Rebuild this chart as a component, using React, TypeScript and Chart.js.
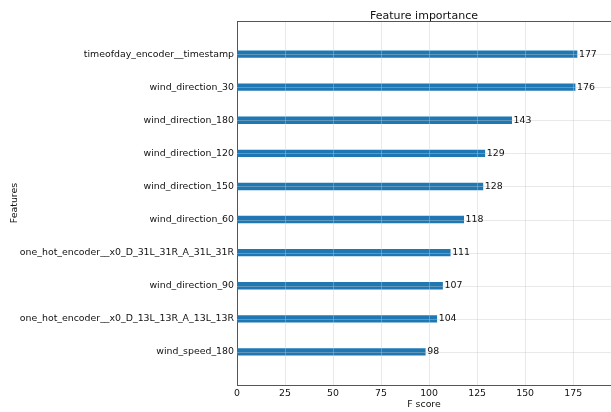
import React, { useEffect, useRef } from "react";
import { Chart, registerables } from "chart.js";

Chart.register(...registerables);

const features = [
  "timeofday_encoder__timestamp",
  "wind_direction_30",
  "wind_direction_180",
  "wind_direction_120",
  "wind_direction_150",
  "wind_direction_60",
  "one_hot_encoder__x0_D_31L_31R_A_31L_31R",
  "wind_direction_90",
  "one_hot_encoder__x0_D_13L_13R_A_13L_13R",
  "wind_speed_180",
];
const scores = [177, 176, 143, 129, 128, 118, 111, 107, 104, 98];
const xTicks = [0, 25, 50, 75, 100, 125, 150, 175];

const FONT = "'DejaVu Sans', sans-serif";
const TEXT = "#111111";
const FS = 9.4;

export default function App() {
  const ref = useRef<HTMLCanvasElement | null>(null);
  useEffect(() => {
    if (!ref.current) return;
    const labels = ["", ...features, ""];
    const data = [null, ...scores, null];
    const maxX = Math.max(...scores) * 1.1;

    const overlay = {
      id: "overlay",
      afterDatasetsDraw(chart: any) {
        const { ctx, chartArea } = chart;
        const xs = chart.scales.x;
        const ys = chart.scales.y;
        ctx.save();
        // grid drawn above bars (matplotlib style)
        ctx.strokeStyle = "rgba(200,200,200,0.4)";
        ctx.lineWidth = 1;
        ctx.beginPath();
        xTicks.forEach((v) => {
          if (v === 0) return;
          const px = Math.round(xs.getPixelForValue(v)) + 0.5;
          ctx.moveTo(px, chartArea.top);
          ctx.lineTo(px, chartArea.bottom);
        });
        features.forEach((f, i) => {
          const py = Math.round(ys.getPixelForValue(i + 1)) + 0.5;
          ctx.moveTo(chartArea.left, py);
          ctx.lineTo(chartArea.right, py);
        });
        ctx.stroke();
        // top spine
        ctx.strokeStyle = "#555";
        ctx.beginPath();
        ctx.moveTo(chartArea.left, Math.round(chartArea.top) + 0.5);
        ctx.lineTo(chartArea.right, Math.round(chartArea.top) + 0.5);
        ctx.stroke();
        // value labels
        ctx.fillStyle = TEXT;
        ctx.font = `${FS}px ${FONT}`;
        ctx.textAlign = "left";
        ctx.textBaseline = "middle";
        scores.forEach((v, i) => {
          const px = xs.getPixelForValue(v + 1);
          const py = ys.getPixelForValue(i + 1);
          ctx.fillText(String(v), px, py);
        });
        // title
        ctx.font = `11px ${FONT}`;
        ctx.textAlign = "center";
        ctx.textBaseline = "alphabetic";
        ctx.fillText("Feature importance", (chartArea.left + chartArea.right) / 2, 19.3);
        // axis titles
        ctx.font = `${FS}px ${FONT}`;
        ctx.fillText("F score", (chartArea.left + chartArea.right) / 2, 406.5);
        ctx.translate(17, (chartArea.top + chartArea.bottom) / 2);
        ctx.rotate(-Math.PI / 2);
        ctx.fillText("Features", 0, 0);
        ctx.restore();
      },
    };

    const chart = new Chart(ref.current, {
      type: "bar",
      data: {
        labels,
        datasets: [
          {
            data: data as any,
            backgroundColor: "#1f77b4",
            borderWidth: 0,
            barThickness: 6.7,
          },
        ],
      },
      options: {
        indexAxis: "y",
        animation: false,
        responsive: false,
        maintainAspectRatio: false,
        layout: { padding: { top: 21, left: 0, right: 0, bottom: 0 } },
        plugins: {
          legend: { display: false },
          title: { display: false },
          tooltip: { enabled: false },
        },
        scales: {
          x: {
            type: "linear",
            min: 0,
            max: maxX,
            afterBuildTicks: (s: any) => {
              s.ticks = xTicks.map((v) => ({ value: v }));
            },
            afterFit: (s: any) => {
              s.height = 27;
            },
            grid: { display: false, drawTicks: false },
            border: { display: true, color: "#555", width: 1 },
            ticks: {
              padding: 3,
              color: TEXT,
              font: { family: FONT, size: FS },
              maxRotation: 0,
            },
          },
          y: {
            type: "category",
            offset: false,
            afterFit: (s: any) => {
              s.width = 237;
            },
            grid: { display: false, drawTicks: false },
            border: { display: true, color: "#555", width: 1 },
            ticks: {
              padding: 3,
              color: TEXT,
              font: { family: FONT, size: FS },
              autoSkip: false,
            },
          },
        },
      },
      plugins: [overlay],
    });
    return () => chart.destroy();
  }, []);

  return (
    <div style={{ position: "fixed", left: 0, top: 0, width: 611, height: 412, background: "#fff" }}>
      <canvas ref={ref} width={611} height={412} style={{ width: 611, height: 412 }} />
    </div>
  );
}
